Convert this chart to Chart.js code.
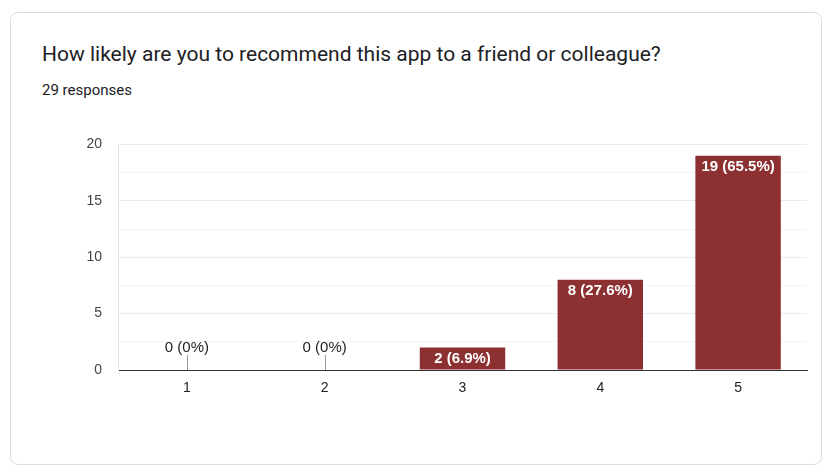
<!DOCTYPE html>
<html>
<head>
<meta charset="utf-8">
<script src="https://cdn.jsdelivr.net/npm/chart.js@4.4.0/dist/chart.umd.min.js"></script>
<style>
  html, body { margin: 0; padding: 0; background: #fff; }
  body { width: 834px; height: 476px; position: relative; overflow: hidden; }
  .card {
    position: absolute; left: 10px; top: 12px; width: 810px; height: 451px;
    border: 1px solid #dadce0; border-radius: 8px; background: #fff;
  }
  .title {
    position: absolute; left: 42px; top: 42px; line-height: 24px;
    font-family: Roboto, "Noto Sans", sans-serif; font-size: 21px; color: #202124;
    white-space: nowrap;
  }
  .sub {
    position: absolute; left: 42px; top: 81px; line-height: 18px;
    font-family: Roboto, "Noto Sans", sans-serif; font-size: 15px; color: #202124;
  }
  #chartBox { position: absolute; left: 10px; top: 120px; width: 812px; height: 300px; }
</style>
</head>
<body>
<div class="card"></div>
<div class="title">How likely are you to recommend this app to a friend or colleague?</div>
<div class="sub">29 responses</div>
<div id="chartBox"><canvas id="chart"></canvas></div>
<script>
const categories = ['1', '2', '3', '4', '5'];
const counts = [0, 0, 2, 8, 19];
const percentLabels = ['0%', '0%', '6.9%', '27.6%', '65.5%'];
const yTicks = [0, 5, 10, 15, 20];

const barColor = '#8c3032';
const labelFont = '15px "Liberation Sans", Arial, sans-serif';
const labelFontBold = 'bold 15px "Liberation Sans", Arial, sans-serif';

// draws "n (p%)" inside each bar, or above the baseline for empty ones
const barLabels = {
    id: 'barLabels',
    afterDatasetsDraw(chart) {
        const ctx = chart.ctx;
        const meta = chart.getDatasetMeta(0);
        ctx.save();
        ctx.textAlign = 'center';
        ctx.textBaseline = 'middle';
        meta.data.forEach((bar, i) => {
            const text = counts[i] + ' (' + percentLabels[i] + ')';
            if (counts[i] > 0) {
                ctx.font = labelFontBold;
                ctx.fillStyle = '#ffffff';
                ctx.fillText(text, bar.x, bar.y + 11);
            } else {
                ctx.strokeStyle = '#999999';
                ctx.lineWidth = 1;
                ctx.beginPath();
                ctx.moveTo(Math.round(bar.x) + 0.5, bar.base);
                ctx.lineTo(Math.round(bar.x) + 0.5, bar.base - 15);
                ctx.stroke();
                ctx.font = labelFont;
                ctx.fillStyle = '#222222';
                ctx.fillText(text, bar.x, bar.base - 22);
            }
        });
        ctx.restore();
    }
};

new Chart(document.getElementById('chart'), {
    type: 'bar',
    data: {
        labels: categories,
        datasets: [{
            data: counts,
            backgroundColor: barColor,
            borderWidth: 0,
            barPercentage: 0.62,
            categoryPercentage: 1.0
        }]
    },
    plugins: [barLabels],
    options: {
        responsive: true,
        maintainAspectRatio: false,
        animation: false,
        layout: { padding: { top: 23, right: 15, left: 0, bottom: 0 } },
        plugins: {
            legend: { display: false },
            tooltip: { enabled: false }
        },
        scales: {
            x: {
                afterFit: s => { s.height = 50; },
                grid: {
                    drawTicks: false,
                    color: c => c.index === categories.length ? '#ebebeb' : 'transparent'
                },
                border: { color: '#333333', width: 1 },
                ticks: {
                    padding: 10,
                    color: '#222222',
                    font: { family: '"Liberation Sans", Arial, sans-serif', size: 14 }
                }
            },
            y: {
                min: yTicks[0],
                max: yTicks[yTicks.length - 1],
                afterFit: s => { s.width = 108; },
                ticks: {
                    stepSize: 2.5,
                    padding: 16,
                    color: '#444444',
                    font: { family: '"Liberation Sans", Arial, sans-serif', size: 14 },
                    callback: v => yTicks.includes(v) ? v : ''
                },
                grid: {
                    drawTicks: false,
                    color: c => yTicks.includes(c.tick.value) ? '#ebebeb' : '#f4f4f4'
                },
                border: { color: '#e4e4e4' }
            }
        }
    }
});
</script>
</body>
</html>
